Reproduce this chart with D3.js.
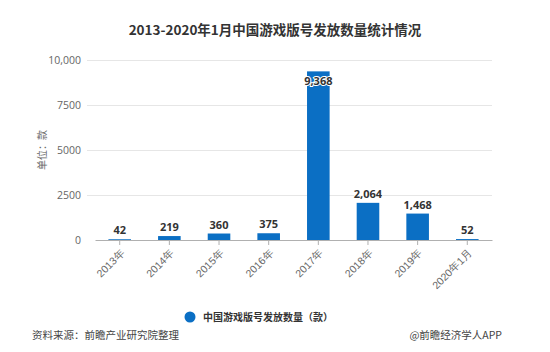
<!DOCTYPE html>
<html>
<head>
<meta charset="utf-8">
<script src="https://cdn.jsdelivr.net/npm/d3@7"></script>
<style>
  body { margin: 0; background: #fff; }
  svg { display: block; font-family: "Noto Sans CJK SC", "Noto Sans", sans-serif; }
</style>
</head>
<body>
<svg width="550" height="352"></svg>
<script>
// data
var years = ["2013年", "2014年", "2015年", "2016年", "2017年", "2018年", "2019年", "2020年1月"];
var counts = [42, 219, 360, 375, 9368, 2064, 1468, 52];
var yTicks = [0, 2500, 5000, 7500, 10000];

var svg = d3.select("svg"),
    width = 550,
    height = 352;

var margin = { left: 95, right: 58, top: 60, bottom: 112 };
var barColor = "#0b6fc4";

var x = d3.scaleBand()
    .domain(years)
    .range([margin.left, width - margin.right])
    .paddingInner(0.545)
    .paddingOuter(0.27);

var y = d3.scaleLinear()
    .domain([0, 10000])
    .range([height - margin.bottom, margin.top]);

// title
svg.append("text")
    .attr("x", 275)
    .attr("y", 35)
    .attr("text-anchor", "middle")
    .style("font-size", "13.5px")
    .style("font-weight", "bold")
    .attr("fill", "#333")
    .text("2013-2020年1月中国游戏版号发放数量统计情况");

// grid lines
svg.append("g")
    .selectAll("line")
    .data(yTicks.slice(1))
    .enter().append("line")
    .attr("x1", 87)
    .attr("x2", width - margin.right)
    .attr("y1", (d) => y(d) + 0.5)
    .attr("y2", (d) => y(d) + 0.5)
    .attr("stroke", "#e6e6e6");

// y axis
var yAxis = svg.append("g")
    .attr("transform", "translate(" + 84 + ",0)")
    .call(d3.axisLeft(y)
        .tickValues(yTicks)
        .tickSize(0)
        .tickFormat((d) => d >= 10000 ? d3.format(",")(d) : d));
yAxis.select(".domain").remove();
yAxis.selectAll("text")
    .attr("fill", "#666")
    .attr("dy", "0.35em")
    .style("font-family", "'Open Sans', 'Noto Sans', sans-serif")
    .style("font-size", "10.5px");

svg.append("text")
    .attr("transform", "translate(42," + y(5000) + ") rotate(-90)")
    .attr("text-anchor", "middle")
    .attr("dy", "0.35em")
    .attr("fill", "#666")
    .style("font-size", "10px")
    .text("单位：款");

// bars
svg.append("g")
    .selectAll("rect")
    .data(counts)
    .enter().append("rect")
    .attr("x", (d, i) => x(years[i]))
    .attr("width", x.bandwidth())
    .attr("y", (d) => y(d))
    .attr("height", (d) => y(0) - y(d))
    .attr("fill", barColor);

// x axis
var xAxis = svg.append("g")
    .attr("transform", "translate(0," + y(0) + ")")
    .call(d3.axisBottom(x).tickSize(5).tickSizeOuter(0));
xAxis.select(".domain").attr("stroke", "#b0b0b0");
xAxis.selectAll(".tick line").attr("stroke", "#b0b0b0");
xAxis.selectAll("text")
    .attr("fill", "#666")
    .style("font-size", "10.5px")
    .attr("text-anchor", "end")
    .attr("y", 0)
    .attr("dy", "0.35em")
    .attr("transform", "translate(3,11) rotate(-45)");

// value labels
svg.append("g")
    .selectAll("text")
    .data(counts)
    .enter().append("text")
    .attr("x", (d, i) => x(years[i]) + x.bandwidth() / 2)
    .attr("y", (d) => d > 9000 ? y(d) + 14 : y(d) - 5)
    .attr("text-anchor", "middle")
    .attr("fill", "#333")
    .attr("stroke", "#fff")
    .attr("stroke-width", 2)
    .attr("paint-order", "stroke")
    .style("font-family", "'Open Sans', 'Noto Sans', sans-serif")
    .style("font-size", "11px")
    .style("font-weight", "bold")
    .text((d) => d3.format(",")(d));

// legend
svg.append("circle")
    .attr("cx", 190)
    .attr("cy", 317)
    .attr("r", 5.5)
    .attr("fill", barColor);
svg.append("text")
    .attr("x", 203)
    .attr("y", 317)
    .attr("dy", "0.35em")
    .attr("fill", "#333")
    .style("font-size", "10px")
    .style("font-weight", "bold")
    .text("中国游戏版号发放数量（款）");

// footer
svg.append("text")
    .attr("x", 32)
    .attr("y", 335)
    .attr("dy", "0.35em")
    .attr("fill", "#444")
    .style("font-size", "10.5px")
    .text("资料来源：前瞻产业研究院整理");
svg.append("text")
    .attr("x", 502)
    .attr("y", 335)
    .attr("dy", "0.35em")
    .attr("text-anchor", "end")
    .attr("fill", "#444")
    .style("font-size", "10.5px")
    .text("@前瞻经济学人APP");
</script>
</body>
</html>
